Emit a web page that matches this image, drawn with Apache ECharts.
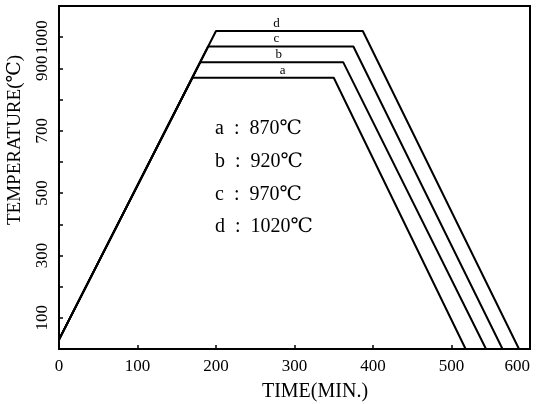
<!DOCTYPE html>
<html>
<head>
<meta charset="utf-8">
<script src="https://cdn.jsdelivr.net/npm/echarts@6/dist/echarts.min.js"></script>
<style>html,body{margin:0;padding:0;background:#fff}#c{width:540px;height:404px}</style>
</head>
<body>
<div id="c"></div>
<script>
// Data
const seriesNames = ['a', 'b', 'c', 'd'];
const timeA = [0, 170, 350, 518];
const tempA = [30, 870, 870, 0];
const timeB = [0, 180, 362, 544];
const tempB = [30, 920, 920, 0];
const timeC = [0, 190, 375, 565];
const tempC = [30, 970, 970, 0];
const timeD = [0, 200, 387, 586];
const tempD = [30, 1020, 1020, 0];
const labelTimes = [285, 280, 277, 277];
const yTickLabels = [100, 300, 500, 700, 900, 1000];
const legendTexts = ['a  :  870℃', 'b  :  920℃', 'c  :  970℃', 'd  :  1020℃'];

const FONT = '"Liberation Serif", "DejaVu Serif", serif';
const times = [timeA, timeB, timeC, timeD];
const temps = [tempA, tempB, tempC, tempD];

const chart = echarts.init(document.getElementById('c'), null, {renderer: 'canvas'});

const series = seriesNames.map((n, i) => ({
  name: n,
  type: 'line',
  symbol: 'none',
  lineStyle: {color: '#000', width: 2},
  data: times[i].map((t, j) => [t, temps[i][j]]),
  markPoint: {
    symbol: 'circle',
    symbolSize: 0,
    data: [{coord: [labelTimes[i], temps[i][1]]}],
    label: {
      show: true, position: 'top', distance: 1,
      formatter: n, color: '#000', fontFamily: FONT, fontSize: 13
    }
  }
}));

const legendY = [129, 162, 195, 227];

chart.setOption({
  animation: false,
  backgroundColor: '#fff',
  grid: {left: 59, right: 10, top: 6, bottom: 55, containLabel: false, outerBoundsMode: 'none',
         show: true, borderColor: '#000', borderWidth: 2},
  xAxis: {
    type: 'value', min: 0, max: 600, interval: 100,
    axisLine: {show: true, lineStyle: {color: '#000', width: 2}},
    axisTick: {show: true, inside: true, length: 4, lineStyle: {color: '#000', width: 1.5}},
    splitLine: {show: false},
    axisLabel: {color: '#000', fontFamily: FONT, fontSize: 17, margin: 9, alignMaxLabel: 'right'}
  },
  yAxis: {
    type: 'value', min: 0, max: 1100, interval: 100,
    axisLine: {show: true, lineStyle: {color: '#000', width: 2}},
    axisTick: {show: true, inside: true, length: 4, lineStyle: {color: '#000', width: 1.5}},
    splitLine: {show: false},
    axisLabel: {
      color: '#000', fontFamily: FONT, fontSize: 17, rotate: 90, margin: 8,
      formatter: v => yTickLabels.indexOf(v) >= 0 ? String(v) : ''
    }
  },
  graphic: [
    {
      type: 'text', x: 315, y: 392,
      style: {text: 'TIME(MIN.)', font: '20px ' + FONT, fill: '#000', align: 'center', verticalAlign: 'middle'}
    },
    {
      type: 'text', x: 15, y: 140, rotation: Math.PI / 2,
      style: {text: 'TEMPERATURE(℃)', font: '19px ' + FONT, fill: '#000', align: 'center', verticalAlign: 'middle'}
    }
  ].concat(legendTexts.map((t, i) => ({
    type: 'text', x: 215, y: legendY[i],
    style: {text: t, font: '20px ' + FONT, fill: '#000', align: 'left', verticalAlign: 'middle'}
  }))),
  series: series
});
</script>
</body>
</html>
